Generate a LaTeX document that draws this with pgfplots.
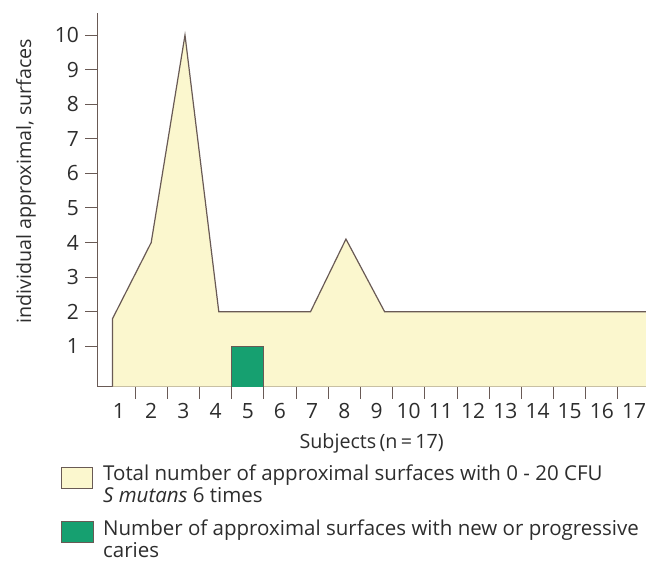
\documentclass[border=0pt]{standalone}
\usepackage{fontspec}
\setmainfont{Open Sans}
\usepackage{pgfplots}
\pgfplotsset{compat=1.18}
\definecolor{fillY}{RGB}{251,247,206}
\definecolor{edge}{RGB}{105,90,85}
\definecolor{grn}{RGB}{22,160,112}
\definecolor{txt}{RGB}{45,45,45}
\begin{document}
\begin{tikzpicture}[x=1pt,y=1pt]
\useasboundingbox (0,0) rectangle (646,568);
\begin{axis}[
  at={(97.3pt,181.3pt)}, anchor=south west,
  scale only axis, width=548.7pt, height=373.7pt,
  xmin=0.326, xmax=17.37, ymin=-0.17, ymax=10.64,
  axis x line*=bottom, axis y line*=left,
  axis line style={edge, line width=1.2pt},
  every tick/.style={edge, line width=1pt},
  tick align=outside,
  major tick length=12pt,
  /pgf/number format/assume math mode=true,
  ytick={1,...,10},
  xtick={1.5,2.5,...,16.5},
  xticklabels={},
  extra x ticks={1,...,17},
  extra x tick style={major tick length=0pt},
  tick label style={font=\fontsize{21}{23}\selectfont, text=txt},
  yticklabel style={xshift=-3pt},
  xticklabel style={yshift=-13pt},
  label style={font=\fontsize{19.7}{22}\selectfont, text=txt},
  xlabel={Subjects\,(n\,=\,17)},
  xlabel style={at={(axis description cs:0.5,-0.151)}, anchor=center},
  ylabel={individual approximal, surfaces},
  ylabel style={at={(axis description cs:-0.13,0.55)}, anchor=center},
]
\addplot[fill=fillY, draw=none] coordinates {(0.8,-0.17) (0.8,1.8) (2,4) (3.05,10) (4.1,2) (6.95,2) (8.05,4.1) (9.25,2) (17.37,2) (17.37,-0.17)} -- cycle;
\addplot[draw=edge, line width=1.2pt] coordinates {(0.8,-0.17) (0.8,1.8) (2,4) (3.05,10) (4.1,2) (6.95,2) (8.05,4.1) (9.25,2) (17.37,2)};
\addplot[fill=grn, draw=edge, line width=1.2pt] coordinates {(4.5,-0.17) (4.5,1) (5.5,1) (5.5,-0.17)};
\end{axis}
\draw[edge, line width=1pt, fill=fillY] (61.7,79.7) rectangle (92.7,100.3);
\draw[edge, line width=1pt, fill=grn] (61.7,25.7) rectangle (93.3,46.3);
\node[anchor=north west, align=left, inner sep=0pt, text=txt, font=\fontsize{20.5}{22}\selectfont] at (103,103)
  {Total number of approximal surfaces with 0 - 20 CFU\\\textit{S mutans} 6 times};
\node[anchor=north west, align=left, inner sep=0pt, text=txt, font=\fontsize{20.5}{22}\selectfont] at (103,48.5)
  {Number of approximal surfaces with new or progressive\\caries};
\end{tikzpicture}
\end{document}
